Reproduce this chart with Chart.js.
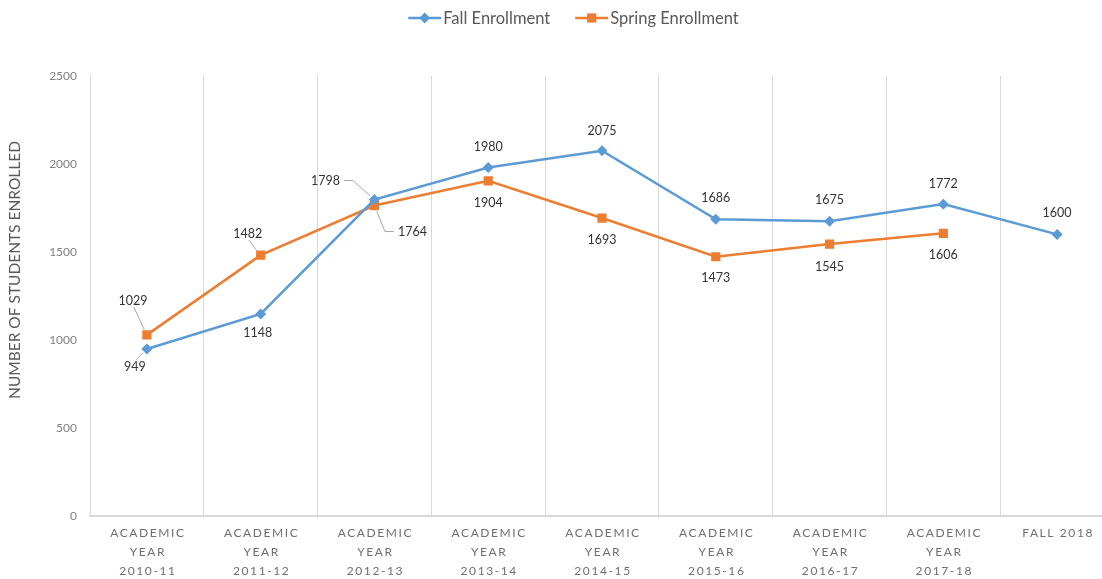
<!DOCTYPE html>
<html>
<head>
<meta charset="utf-8">
<title>Enrollment</title>
<script src="https://cdn.jsdelivr.net/npm/chart.js@4.4.1/dist/chart.umd.min.js"></script>
<style>
    html, body { margin: 0; padding: 0; background: #fff; overflow: hidden; }
    #wrap { position: absolute; left: 0; top: 0; width: 1147px; height: 579px; }
</style>
</head>
<body>
<div id="wrap"><canvas id="enroll-chart" width="1147" height="579"></canvas></div>
<script>
// данные графика
const categories = [
    ['ACADEMIC', 'YEAR', '2010-11'],
    ['ACADEMIC', 'YEAR', '2011-12'],
    ['ACADEMIC', 'YEAR', '2012-13'],
    ['ACADEMIC', 'YEAR', '2013-14'],
    ['ACADEMIC', 'YEAR', '2014-15'],
    ['ACADEMIC', 'YEAR', '2015-16'],
    ['ACADEMIC', 'YEAR', '2016-17'],
    ['ACADEMIC', 'YEAR', '2017-18'],
    ['FALL 2018']
];
const fallValues = [949, 1148, 1798, 1980, 2075, 1686, 1675, 1772, 1600];
const springValues = [1029, 1482, 1764, 1904, 1693, 1473, 1545, 1606, null];
const yMin = 0;
const yMax = 2500;
const yStep = 500;
const yTitle = 'NUMBER OF STUDENTS ENROLLED';

// где ставить подписи значений (смещение от точки, тип выноски)
const fallLabelPos = [[-12, 18, 'line'], [-3, 19], [-49, -19, 'elbow'], [0, -21], [0, -20], [0, -21], [0, -21], [0, -20], [0, -21]];
const springLabelPos = [[-14, -34, 'line'], [-13, -21, 'line'], [38, 26, 'elbow'], [0, 22], [0, 22], [0, 21], [0, 23], [0, 22]];

const FONT = 'Lato, "Open Sans", sans-serif';
const BLUE = '#5B9BD5';
const ORANGE = '#ED7D31';
const GRID = '#d9d9d9';

function drawLeader(ctx, px, py, lx, ly, type, textW) {
    ctx.save();
    ctx.strokeStyle = '#a6a6a6';
    ctx.lineWidth = 1;
    ctx.beginPath();
    if (type === 'elbow') {
        const side = px > lx ? 1 : -1;
        const sx = lx + side * (textW / 2 + 4);
        const mx = sx + side * 9;
        ctx.moveTo(sx, ly);
        ctx.lineTo(mx, ly);
        const dx = px - mx, dy = py - ly;
        const len = Math.hypot(dx, dy);
        ctx.lineTo(px - dx / len * 6, py - dy / len * 6);
    } else {
        const sy = ly + (py > ly ? 6 : -7);
        const dx = px - lx, dy = py - sy;
        const len = Math.hypot(dx, dy);
        ctx.moveTo(lx + dx / len * 2, sy);
        ctx.lineTo(px - dx / len * 6, py - dy / len * 6);
    }
    ctx.stroke();
    ctx.restore();
}

const extrasPlugin = {
    id: 'extras',
    afterDatasetsDraw(chart) {
        const ctx = chart.ctx;
        const positions = [fallLabelPos, springLabelPos];
        ctx.save();
        ctx.font = '12.5px ' + FONT;
        ctx.fillStyle = '#333333';
        ctx.textAlign = 'center';
        ctx.textBaseline = 'middle';
        chart.data.datasets.forEach((ds, di) => {
            const meta = chart.getDatasetMeta(di);
            meta.data.forEach((pt, i) => {
                const v = ds.data[i];
                if (v === null || v === undefined) return;
                const pos = positions[di][i];
                const lx = pt.x + pos[0];
                const ly = pt.y + pos[1];
                const text = String(v);
                if (pos[2]) drawLeader(ctx, pt.x, pt.y, lx, ly, pos[2], ctx.measureText(text).width);
                ctx.fillText(text, lx, ly);
            });
        });
        ctx.restore();
    },
    afterDraw(chart) {
        const ctx = chart.ctx;
        const xScale = chart.scales.x;
        const area = chart.chartArea;

        // подписи оси X с разрядкой
        ctx.save();
        ctx.font = '12px ' + FONT;
        ctx.fillStyle = '#6f6f6f';
        ctx.textAlign = 'center';
        ctx.textBaseline = 'middle';
        if ('letterSpacing' in ctx) ctx.letterSpacing = '1.6px';
        chart.data.labels.forEach((lbl, i) => {
            const x = xScale.getPixelForValue(i) + 1;
            const lines = Array.isArray(lbl) ? lbl : [lbl];
            lines.forEach((line, j) => {
                ctx.fillText(line, x, area.bottom + 17 + j * 19);
            });
        });
        ctx.restore();

        // заголовок оси Y
        ctx.save();
        ctx.font = '15.5px ' + FONT;
        ctx.fillStyle = '#595959';
        ctx.textAlign = 'center';
        ctx.textBaseline = 'middle';
        ctx.translate(15, 270);
        ctx.rotate(-Math.PI / 2);
        ctx.fillText(yTitle, 0, 0);
        ctx.restore();

        // легенда
        ctx.save();
        ctx.font = '16.5px ' + FONT;
        ctx.textBaseline = 'middle';
        const markW = 33, gapText = 2, gapItem = 25, ly = 18;
        const items = chart.data.datasets.map(ds => ({
            ds, w: markW + gapText + ctx.measureText(ds.label).width
        }));
        const total = items.reduce((s, it) => s + it.w, 0) + gapItem * (items.length - 1);
        let x = chart.width / 2 - total / 2;
        items.forEach(it => {
            ctx.strokeStyle = it.ds.borderColor;
            ctx.lineWidth = 2.5;
            ctx.beginPath();
            ctx.moveTo(x, ly);
            ctx.lineTo(x + markW, ly);
            ctx.stroke();
            ctx.fillStyle = it.ds.borderColor;
            ctx.beginPath();
            if (it.ds.pointStyle === 'rect') {
                const s = it.ds.pointRadius * Math.SQRT1_2;
                ctx.rect(x + markW / 2 - s, ly - s, 2 * s, 2 * s);
            } else {
                const r = it.ds.pointRadius;
                ctx.moveTo(x + markW / 2, ly - r);
                ctx.lineTo(x + markW / 2 + r, ly);
                ctx.lineTo(x + markW / 2, ly + r);
                ctx.lineTo(x + markW / 2 - r, ly);
                ctx.closePath();
            }
            ctx.fill();
            ctx.fillStyle = '#595959';
            ctx.textAlign = 'left';
            ctx.fillText(it.ds.label, x + markW + gapText, ly + 1);
            x += it.w + gapItem;
        });
        ctx.restore();
    }
};

function initializeChart() {
    const ctx = document.getElementById('enroll-chart').getContext('2d');

    return new Chart(ctx, {
        type: 'line',
        data: {
            labels: categories,
            datasets: [{
                label: 'Fall Enrollment',
                data: fallValues,
                borderColor: BLUE,
                backgroundColor: BLUE,
                borderWidth: 2.5,
                pointStyle: 'rectRot',
                pointRadius: 5.5,
                pointBorderWidth: 0,
                tension: 0
            }, {
                label: 'Spring Enrollment',
                data: springValues,
                borderColor: ORANGE,
                backgroundColor: ORANGE,
                borderWidth: 2.5,
                pointStyle: 'rect',
                pointRadius: 6.5,
                pointBorderWidth: 0,
                tension: 0
            }]
        },
        options: {
            responsive: false,
            animation: false,
            devicePixelRatio: 1,
            layout: {
                padding: { top: 76, right: 33, left: 0, bottom: 0 }
            },
            plugins: {
                legend: { display: false },
                tooltip: { enabled: false }
            },
            scales: {
                x: {
                    offset: true,
                    grid: {
                        offset: true,
                        color: GRID,
                        lineWidth: 1,
                        drawTicks: false
                    },
                    border: { display: true, color: GRID, width: 2 },
                    ticks: { display: false },
                    afterFit(scale) { scale.height = 63; }
                },
                y: {
                    min: yMin,
                    max: yMax,
                    grid: { display: false, drawTicks: false },
                    border: { display: false },
                    ticks: {
                        stepSize: yStep,
                        padding: 13,
                        color: '#7f7f7f',
                        font: { family: FONT, size: 12 },
                        callback: (value) => String(value)
                    },
                    afterFit(scale) { scale.width = 90; }
                }
            }
        },
        plugins: [extrasPlugin]
    });
}

initializeChart();
</script>
</body>
</html>
